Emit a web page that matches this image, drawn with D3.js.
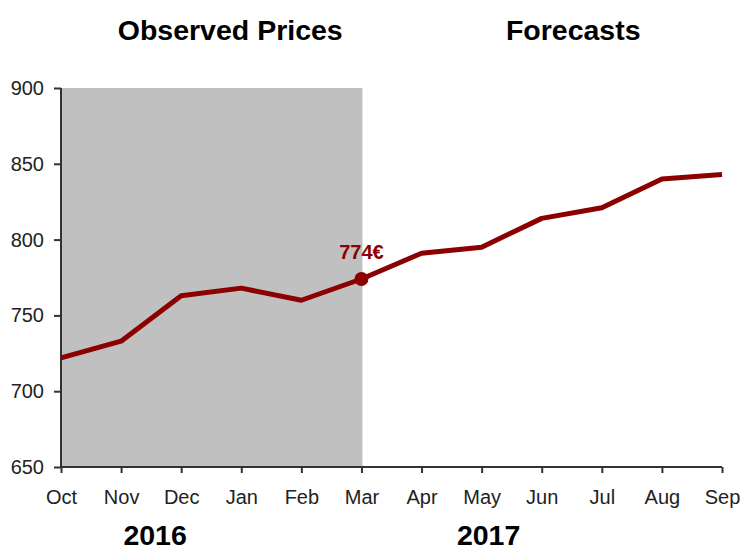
<!DOCTYPE html>
<html>
<head>
<meta charset="utf-8">
<script src="https://cdn.jsdelivr.net/npm/d3@7"></script>
<style>
  body { margin: 0; background: #fff; }
  text { font-family: "Liberation Sans", Arial, sans-serif; }
</style>
</head>
<body>
<div id="chart"></div>
<script>
// chart data
var months = ["Oct", "Nov", "Dec", "Jan", "Feb", "Mar", "Apr", "May", "Jun", "Jul", "Aug", "Sep"];
var prices = [722, 733, 763, 768, 760, 774, 791, 795, 814, 821, 840, 843];
var yTicks = [650, 700, 750, 800, 850, 900];
var lastObserved = "Mar";
var years = ["2016", "2017"];

var svgWidth = 744;
var svgHeight = 548;
var margin = { top: 88, right: 21, bottom: 81, left: 61 };
var width = svgWidth - margin.left - margin.right;
var height = svgHeight - margin.top - margin.bottom;

var lineColor = "#8b0000";

var svg = d3.select("#chart")
  .append("svg")
  .attr("width", svgWidth)
  .attr("height", svgHeight);

var chartGroup = svg.append("g")
  .attr("transform", `translate(${margin.left}, ${margin.top})`);

var xScale = d3.scalePoint()
  .domain(months)
  .range([0, width - 1]);

var yScale = d3.scaleLinear()
  .domain([650, 900])
  .range([height, 0]);

// shaded observed period
chartGroup.append("rect")
  .attr("x", 0)
  .attr("y", 0)
  .attr("width", xScale(lastObserved) + 1)
  .attr("height", height)
  .attr("fill", "#c0c0c0");

// axes
var bottomAxis = d3.axisBottom(xScale).tickSize(6).tickPadding(17);
var leftAxis = d3.axisLeft(yScale).tickValues(yTicks).tickSize(7).tickPadding(10);

var xAxis = chartGroup.append("g")
  .attr("transform", `translate(0, ${height})`)
  .call(bottomAxis);

var yAxis = chartGroup.append("g")
  .call(leftAxis);

[xAxis, yAxis].forEach(function(ax) {
  ax.select(".domain").attr("stroke", "#333").attr("stroke-width", 2);
  ax.selectAll(".tick line").attr("stroke", "#333").attr("stroke-width", 2);
  ax.selectAll(".tick text")
    .attr("fill", "#222")
    .style("font-size", "20px")
    .style("font-family", "Liberation Sans, Arial, sans-serif");
});
xAxis.select(".domain").attr("d", `M0,0H${width - 1}`);
yAxis.select(".domain").attr("d", `M0,0V${height}`);

// price line
var line = d3.line()
  .x((d, i) => xScale(months[i]))
  .y(d => yScale(d));

chartGroup.append("path")
  .datum(prices)
  .attr("d", line)
  .attr("fill", "none")
  .attr("stroke", lineColor)
  .attr("stroke-width", 5)
  .attr("stroke-linejoin", "round");

// last observed point
var idx = months.indexOf(lastObserved);
chartGroup.append("circle")
  .attr("cx", xScale(lastObserved))
  .attr("cy", yScale(prices[idx]))
  .attr("r", 7)
  .attr("fill", lineColor);

chartGroup.append("text")
  .attr("x", xScale(lastObserved))
  .attr("y", yScale(prices[idx]) - 20)
  .attr("text-anchor", "middle")
  .attr("fill", lineColor)
  .style("font-size", "20px")
  .style("font-weight", "bold")
  .text(prices[idx] + "€");

// section titles
chartGroup.append("text")
  .attr("x", xScale(lastObserved) / 2 + 19)
  .attr("y", 40 - margin.top)
  .attr("text-anchor", "middle")
  .style("font-size", "28.5px")
  .style("font-weight", "bold")
  .text("Observed Prices");

chartGroup.append("text")
  .attr("x", (xScale(lastObserved) + width) / 2 + 31)
  .attr("y", 40 - margin.top)
  .attr("text-anchor", "middle")
  .style("font-size", "28.5px")
  .style("font-weight", "bold")
  .text("Forecasts");

// year labels
var yearX = [
  (xScale("Nov") + xScale("Dec")) / 2 + 4,
  xScale("May") + 7
];
chartGroup.selectAll(".year")
  .data(years)
  .enter()
  .append("text")
  .attr("class", "year")
  .attr("x", (d, i) => yearX[i])
  .attr("y", 545 - margin.top)
  .attr("text-anchor", "middle")
  .style("font-size", "28.5px")
  .style("font-weight", "bold")
  .text(d => d);
</script>
</body>
</html>
